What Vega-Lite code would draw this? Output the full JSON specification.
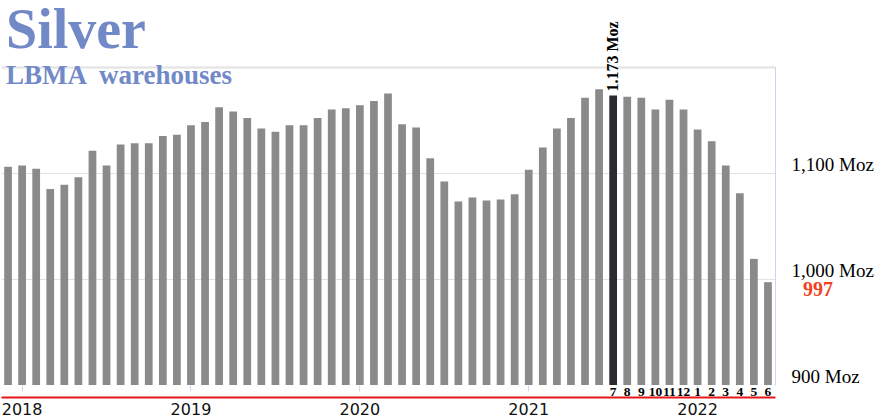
{
  "$schema": "https://vega.github.io/schema/vega-lite/v6.json",
  "width": 774,
  "height": 318,
  "autosize": {"type": "none"},
  "padding": {"left": 1, "top": 67, "right": 117, "bottom": 34},
  "background": "white",
  "title": {
    "text": "Silver",
    "subtitle": "LBMA \u00a0warehouses",
    "anchor": "start",
    "frame": "group",
    "font": "Liberation Serif",
    "fontSize": 56,
    "fontWeight": "bold",
    "color": "#7189c7",
    "subtitleFont": "Liberation Serif",
    "subtitleFontSize": 27,
    "subtitleFontWeight": "bold",
    "subtitleColor": "#7189c7",
    "subtitlePadding": 3.5,
    "offset": -21,
    "dx": 5,
    "dy": 48
  },
  "data": {
    "values": [
      {"month": "2017-12", "moz": 1106},
      {"month": "2018-01", "moz": 1107},
      {"month": "2018-02", "moz": 1104},
      {"month": "2018-03", "moz": 1085},
      {"month": "2018-04", "moz": 1089},
      {"month": "2018-05", "moz": 1096},
      {"month": "2018-06", "moz": 1121},
      {"month": "2018-07", "moz": 1107},
      {"month": "2018-08", "moz": 1127},
      {"month": "2018-09", "moz": 1128},
      {"month": "2018-10", "moz": 1128},
      {"month": "2018-11", "moz": 1135},
      {"month": "2018-12", "moz": 1136},
      {"month": "2019-01", "moz": 1145},
      {"month": "2019-02", "moz": 1148},
      {"month": "2019-03", "moz": 1162},
      {"month": "2019-04", "moz": 1158},
      {"month": "2019-05", "moz": 1152},
      {"month": "2019-06", "moz": 1142},
      {"month": "2019-07", "moz": 1139},
      {"month": "2019-08", "moz": 1145},
      {"month": "2019-09", "moz": 1145},
      {"month": "2019-10", "moz": 1152},
      {"month": "2019-11", "moz": 1160},
      {"month": "2019-12", "moz": 1161},
      {"month": "2020-01", "moz": 1164},
      {"month": "2020-02", "moz": 1168},
      {"month": "2020-03", "moz": 1175},
      {"month": "2020-04", "moz": 1146},
      {"month": "2020-05", "moz": 1143},
      {"month": "2020-06", "moz": 1114},
      {"month": "2020-07", "moz": 1092},
      {"month": "2020-08", "moz": 1073},
      {"month": "2020-09", "moz": 1077},
      {"month": "2020-10", "moz": 1074},
      {"month": "2020-11", "moz": 1075},
      {"month": "2020-12", "moz": 1080},
      {"month": "2021-01", "moz": 1103},
      {"month": "2021-02", "moz": 1124},
      {"month": "2021-03", "moz": 1142},
      {"month": "2021-04", "moz": 1152},
      {"month": "2021-05", "moz": 1171},
      {"month": "2021-06", "moz": 1179},
      {"month": "2021-07", "moz": 1173, "mlabel": "7"},
      {"month": "2021-08", "moz": 1172, "mlabel": "8"},
      {"month": "2021-09", "moz": 1171, "mlabel": "9"},
      {"month": "2021-10", "moz": 1160, "mlabel": "10"},
      {"month": "2021-11", "moz": 1169, "mlabel": "11"},
      {"month": "2021-12", "moz": 1160, "mlabel": "12"},
      {"month": "2022-01", "moz": 1141, "mlabel": "1"},
      {"month": "2022-02", "moz": 1130, "mlabel": "2"},
      {"month": "2022-03", "moz": 1107, "mlabel": "3"},
      {"month": "2022-04", "moz": 1081, "mlabel": "4"},
      {"month": "2022-05", "moz": 1019, "mlabel": "5"},
      {"month": "2022-06", "moz": 997, "mlabel": "6"}
    ]
  },
  "resolve": {"axis": {"x": "independent"}},
  "layer": [
    {
      "mark": {"type": "bar", "clip": true},
      "encoding": {
        "x": {
          "field": "month",
          "type": "ordinal",
          "sort": null,
          "scale": {"paddingInner": 0.45, "paddingOuter": 0.225},
          "axis": {
            "orient": "bottom",
            "title": null,
            "values": ["2018-01", "2019-01", "2020-01", "2021-01", "2022-01"],
            "labelExpr": "slice(datum.value, 0, 4)",
            "labelAngle": 0,
            "labelFont": "DejaVu Sans",
            "labelFontSize": 16,
            "labelColor": "#111111",
            "labelBaseline": "top",
            "labelPadding": 4,
            "ticks": false,
            "domain": true,
            "domainColor": "#e8161b",
            "domainWidth": 2,
            "offset": 12,
            "grid": false
          }
        },
        "y": {
          "field": "moz",
          "type": "quantitative",
          "stack": null,
          "scale": {"domain": [900, 1200], "zero": false, "nice": false},
          "axis": {
            "orient": "right",
            "title": null,
            "values": [900, 1000, 1100, 1200],
            "labelExpr": "datum.value == 1200 ? '' : format(datum.value, ',') + ' Moz'",
            "labelFont": "Liberation Serif",
            "labelFontSize": 19,
            "labelColor": "#000000",
            "labelAlign": "left",
            "labelBaseline": "alphabetic",
            "labelOffset": -3,
            "labelPadding": 16,
            "ticks": false,
            "domain": true,
            "domainColor": "#c9d6ee",
            "domainWidth": 1,
            "grid": true,
            "gridColor": {"condition": {"test": "datum.value == 900", "value": "transparent"}, "value": "#e2e2e2"},
            "gridWidth": {"condition": {"test": "datum.value == 1200", "value": 2}, "value": 1}
          }
        },
        "color": {
          "condition": {"test": "datum.month == '2021-07'", "value": "#2b2b2f"},
          "value": "#8a8a8a"
        }
      }
    },
    {
      "transform": [{"filter": "isValid(datum.mlabel)"}],
      "mark": {"type": "text", "font": "Liberation Serif", "fontWeight": "bold", "fontSize": 13.5, "baseline": "alphabetic", "align": "center", "dy": 11, "color": "#000000"},
      "encoding": {
        "x": {
          "field": "month",
          "type": "ordinal",
          "sort": null,
          "axis": {
            "orient": "bottom",
            "title": null,
            "values": ["2018-01", "2019-01", "2020-01", "2021-01", "2022-01"],
            "labels": false,
            "domain": false,
            "ticks": true,
            "tickSize": 6,
            "tickColor": "#cfd9ee",
            "tickWidth": 1,
            "grid": false,
            "offset": 0
          }
        },
        "y": {"datum": 900, "type": "quantitative"},
        "text": {"field": "mlabel"}
      }
    },
    {
      "transform": [{"filter": "datum.month == '2022-06'"}],
      "mark": {"type": "text", "font": "Liberation Serif", "fontWeight": "bold", "fontSize": 20, "baseline": "alphabetic", "align": "center", "dx": 50, "dy": 14, "color": "#f2401f"},
      "encoding": {
        "x": {"field": "month", "type": "ordinal", "sort": null, "axis": null},
        "y": {"field": "moz", "type": "quantitative"},
        "text": {"field": "moz", "type": "quantitative"}
      }
    },
    {
      "transform": [{"filter": "datum.month == '2021-07'"}],
      "mark": {"type": "text", "font": "Liberation Serif", "fontWeight": "bold", "fontSize": 16, "baseline": "middle", "align": "left", "angle": 270, "dx": 4, "color": "#000000"},
      "encoding": {
        "x": {"field": "month", "type": "ordinal", "sort": null, "axis": null},
        "y": {"field": "moz", "type": "quantitative"},
        "text": {"value": "1.173 Moz"}
      }
    }
  ],
  "config": {
    "view": {"stroke": null}
  }
}
